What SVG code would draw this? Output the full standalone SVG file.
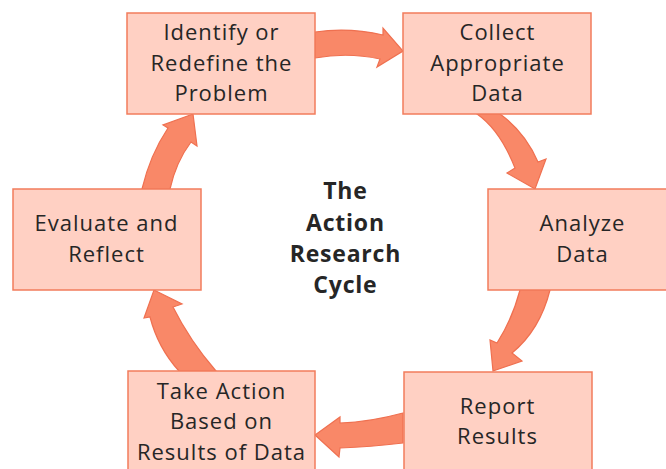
<svg xmlns="http://www.w3.org/2000/svg" width="666" height="469" viewBox="0 0 666 469">
<style>
.box{fill:#FFD0C3;stroke:#F27C5C;stroke-width:1.5}
.arr{fill:#F98868;stroke:#EF7050;stroke-width:1.2;stroke-linejoin:miter}
.t{font-family:"Open Sans","Liberation Sans",sans-serif;font-size:22px;letter-spacing:1px;fill:#262626;text-anchor:middle}
.title{font-family:"Open Sans","Liberation Sans",sans-serif;font-size:23px;letter-spacing:0.8px;font-weight:bold;fill:#262626;text-anchor:middle}
</style>
<rect width="666" height="469" fill="#ffffff"/>
<g id="connectors">
<path class="arr" d="M315,32 Q349,27 383,35 L383,28 L403,51 L377,67 L380,59 Q348,52 315,58 Z"/>
<path class="arr" d="M477,114 L500,114 Q525,132 538,162 L546,159 L535,189 L507,173 L515,168 Q500,130 477,114 Z"/>
<path class="arr" d="M520,290 L550,290 Q540,330 512,353 L522,361 L493,371 L490,340 L497,343 Q512,320 520,290 Z"/>
<path class="arr" d="M403,413 Q370,422 340,423 L340,417 L315,435 L339,457 L340,448 Q370,447 403,443 Z"/>
<path class="arr" d="M216,371 L179,371 Q158,348 150,317 L144,318 L154,290 L182,304 L173,307 Q190,341 216,371 Z"/>
<path class="arr" d="M142,189 Q150,155 168,128 L163,125 L193,114 L197,146 L191,142 Q176,162 170,189 Z"/>
</g>
<g id="node-identify">
<rect class="box" x="127" y="13" width="188" height="101"/>
<text class="t" x="221.5" y="40">Identify or</text>
<text class="t" x="221.5" y="71">Redefine the</text>
<text class="t" x="221.5" y="101">Problem</text>
</g>
<g id="node-collect">
<rect class="box" x="403" y="13" width="188" height="101"/>
<text class="t" x="497.5" y="40">Collect</text>
<text class="t" x="497.5" y="71">Appropriate</text>
<text class="t" x="497.5" y="101">Data</text>
</g>
<g id="node-analyze">
<rect class="box" x="488" y="189" width="188" height="101"/>
<text class="t" x="582.5" y="231">Analyze</text>
<text class="t" x="582.5" y="262">Data</text>
</g>
<g id="node-report">
<rect class="box" x="404" y="372" width="188" height="101"/>
<text class="t" x="497.5" y="414">Report</text>
<text class="t" x="497.5" y="444">Results</text>
</g>
<g id="node-action">
<rect class="box" x="128" y="371" width="187" height="101"/>
<text class="t" x="221.5" y="399">Take Action</text>
<text class="t" x="221.5" y="429">Based on</text>
<text class="t" x="221.5" y="460">Results of Data</text>
</g>
<g id="node-evaluate">
<rect class="box" x="13" y="189" width="188" height="101"/>
<text class="t" x="106.5" y="231">Evaluate and</text>
<text class="t" x="106.5" y="262">Reflect</text>
</g>
<g id="title">
<text class="title" x="345.4" y="199">The</text>
<text class="title" x="345.4" y="231">Action</text>
<text class="title" x="345.4" y="262">Research</text>
<text class="title" x="345.4" y="293">Cycle</text>
</g>
</svg>
